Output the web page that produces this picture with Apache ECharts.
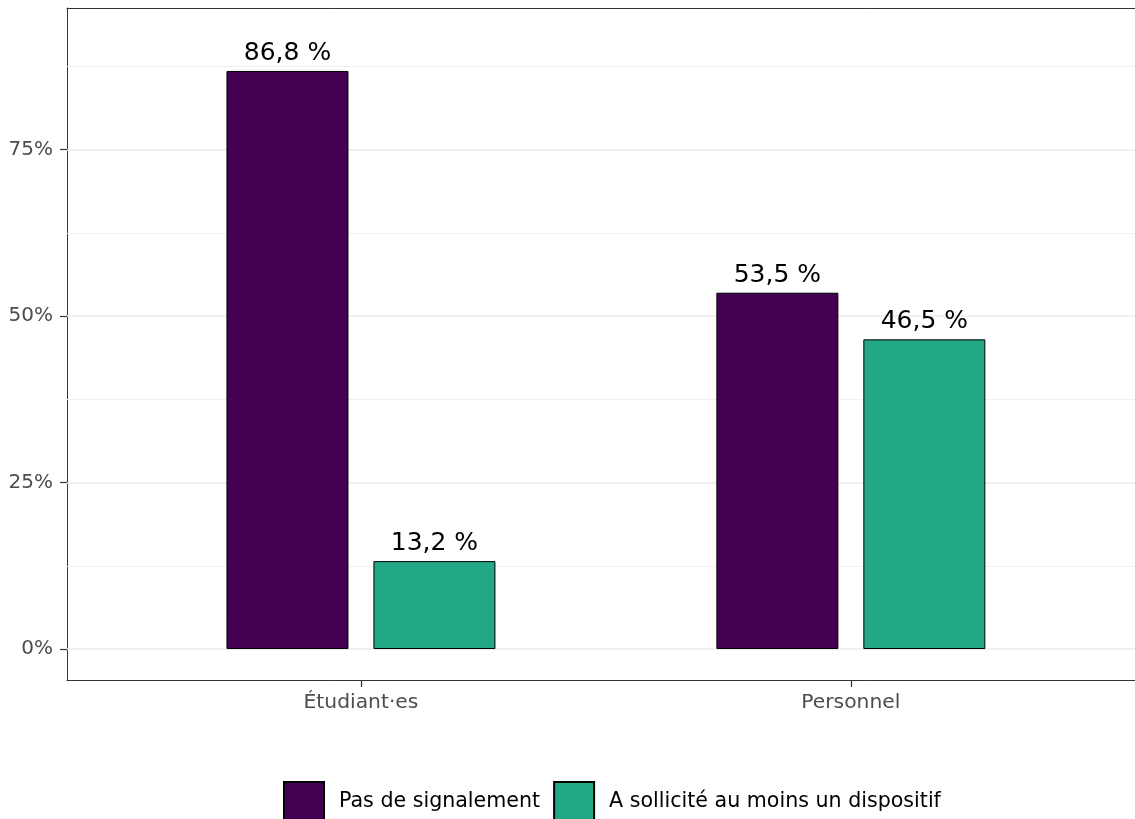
<!DOCTYPE html>
<html>
<head>
<meta charset="utf-8">
<script src="https://cdn.jsdelivr.net/npm/echarts@6/dist/echarts.min.js"></script>
<style>
html,body{margin:0;padding:0;background:#fff;}
#chart{width:1135px;height:819px;}
</style>
</head>
<body>
<div id="chart"></div>
<script>
const categories = ["Étudiant·es", "Personnel"];
const seriesNames = ["Pas de signalement", "A sollicité au moins un dispositif"];
const pasDeSignalement = [86.8, 53.5];
const aSollicite = [13.2, 46.5];
const yTicks = [0, 25, 50, 75];
const yMinorTicks = [12.5, 37.5, 62.5, 87.5];
const colors = ["#440154", "#22A884"];

const dodge = [-0.15, 0.15];
function toData(vals, k) {
  return vals.map((v, i) => [i + 1 + dodge[k], v]);
}
function fmtPct(v) {
  return v.toFixed(1).replace('.', ',') + ' %';
}
const FONT = 'DejaVu Sans';
const X_MIN = 0.4, X_MAX = 2.58;

const gridLines = yTicks.map(v => ({ yAxis: v, lineStyle: { color: '#EBEBEB', width: 1.6, type: 'solid' } }))
  .concat(yMinorTicks.map(v => ({ yAxis: v, lineStyle: { color: '#F0F0F0', width: 1.2, type: 'solid' } })));

const chart = echarts.init(document.getElementById('chart'), null, { renderer: 'canvas' });
chart.setOption({
  animation: false,
  backgroundColor: '#fff',
  textStyle: { fontFamily: FONT },
  grid: {
    left: 67, top: 8, right: 0, bottom: 139,
    show: false
  },
  legend: {
    left: 283, top: 781, padding: 0,
    icon: 'rect',
    itemWidth: 40, itemHeight: 40, itemGap: 13,
    textStyle: { fontFamily: FONT, fontSize: 20.6, color: '#000', padding: [0, 0, 0, 10] },
    data: seriesNames
  },
  xAxis: [{
    type: 'value', min: X_MIN, max: X_MAX, position: 'bottom',
    splitLine: { show: false },
    axisLine: { show: true, onZero: false, lineStyle: { color: '#333333', width: 1 } },
    axisTick: { show: true, length: 7, customValues: [1, 2], lineStyle: { color: '#333333', width: 1.2 } },
    axisLabel: {
      customValues: [1, 2], margin: 13,
      fontFamily: FONT, fontSize: 20.3, color: '#4D4D4D',
      formatter: v => categories[Math.round(v) - 1] || ''
    }
  }, {
    type: 'value', min: X_MIN, max: X_MAX, position: 'top',
    splitLine: { show: false },
    axisLine: { show: true, onZero: false, lineStyle: { color: '#333333', width: 1 } },
    axisTick: { show: false },
    axisLabel: { show: false }
  }],
  yAxis: {
    type: 'value', min: -4.65, max: 96.25,
    splitLine: { show: false },
    axisLine: { show: true, onZero: false, lineStyle: { color: '#333333', width: 1 } },
    axisTick: { show: true, length: 7, customValues: yTicks, lineStyle: { color: '#333333', width: 1.2 } },
    axisLabel: {
      customValues: yTicks, margin: 14,
      fontFamily: FONT, fontSize: 20, color: '#4D4D4D',
      formatter: v => Math.round(v) + '%'
    }
  },
  series: [
    {
      name: seriesNames[0], type: 'bar', barWidth: 122, barGap: '-100%', xAxisIndex: 0,
      data: toData(pasDeSignalement, 0),
      itemStyle: { color: colors[0], borderColor: '#000', borderWidth: 1 },
      label: { show: true, position: 'top', distance: 5, fontFamily: FONT, fontSize: 25, color: '#000',
        formatter: p => fmtPct(p.value[1]) },
      markLine: { silent: true, symbol: 'none', z: 1, label: { show: false }, data: gridLines }
    },
    {
      name: seriesNames[1], type: 'bar', barWidth: 122, barGap: '-100%', xAxisIndex: 0,
      data: toData(aSollicite, 1),
      itemStyle: { color: colors[1], borderColor: '#000', borderWidth: 1 },
      label: { show: true, position: 'top', distance: 5, fontFamily: FONT, fontSize: 25, color: '#000',
        formatter: p => fmtPct(p.value[1]) }
    }
  ]
});
</script>
</body>
</html>
